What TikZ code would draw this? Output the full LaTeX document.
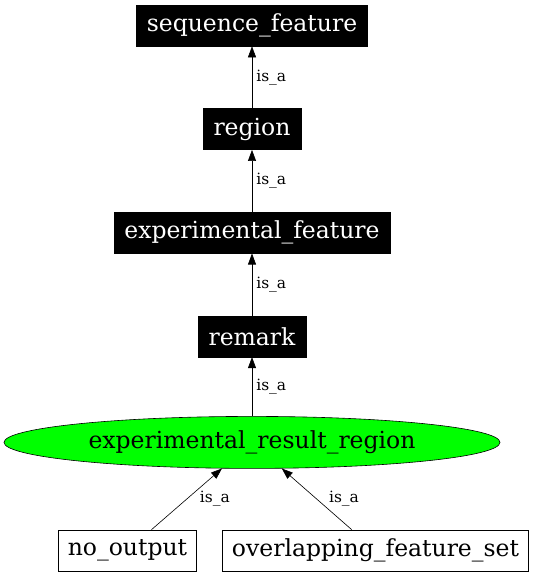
\documentclass[tikz,border=0pt]{standalone}
\usepackage{fontspec}
\setmainfont{DejaVu Serif}
\usetikzlibrary{positioning,shapes.geometric,arrows.meta}

\tikzset{
  term/.style={fill=black, text=white, draw=black, minimum height=41pt, inner xsep=10.5pt, font=\fontsize{23.5}{27}\selectfont},
  leaf/.style={fill=white, draw=black, minimum height=41pt, inner xsep=9.5pt, font=\fontsize{23.5}{27}\selectfont},
  isa/.style={right, inner sep=4pt, font=\fontsize{15.5}{18}\selectfont},
}

\begin{document}
\begin{tikzpicture}[x=1pt, y=-1pt, node distance=62pt, >={Triangle[length=11pt,width=8pt]}, semithick]
    \useasboundingbox (0,0) rectangle (536,576);
    \node[term] (sf) at (252,25.5) {sequence\_feature};
    \node[term, below=of sf] (reg) {region};
    \node[term, below=of reg] (ef) {experimental\_feature};
    \node[term, below=of ef] (rem) {remark};
    \node[ellipse, draw=black, fill=green, minimum width=496pt, minimum height=52pt,
          font=\fontsize{23.5}{27}\selectfont, below=59pt of rem] (err) {experimental\_result\_region};
    \node[leaf, below=61pt of err.south, xshift=-124.5pt] (nout) {no\_output};
    \node[leaf, below=61pt of err.south, xshift=123.5pt] (ofs) {overlapping\_feature\_set};

    \draw[->] (reg) -- node[isa]{is\_a} (sf);
    \draw[->] (ef) -- node[isa]{is\_a} (reg);
    \draw[->] (rem) -- node[isa]{is\_a} (ef);
    \draw[->] (err) -- node[isa]{is\_a} (rem);
    \draw[->] (nout) -- node[isa, xshift=9pt]{is\_a} (err);
    \draw[->] (ofs) -- node[isa, xshift=8pt]{is\_a} (err);
\end{tikzpicture}
\end{document}
